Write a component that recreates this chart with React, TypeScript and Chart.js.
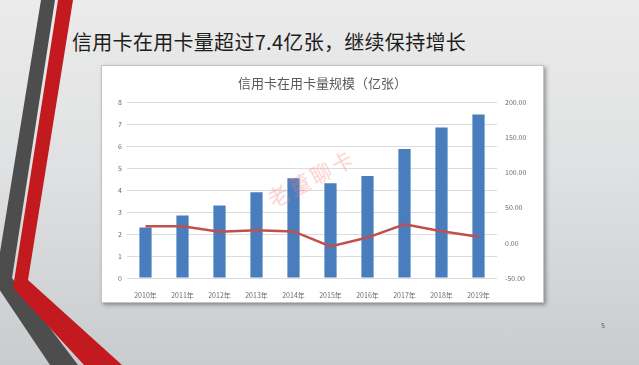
import React, { useEffect, useRef } from "react";
import { Chart, registerables } from "chart.js";

Chart.register(...registerables);

const years = ["2010年", "2011年", "2012年", "2013年", "2014年", "2015年", "2016年", "2017年", "2018年", "2019年"];
const cardsInUse = [2.30, 2.85, 3.31, 3.91, 4.55, 4.32, 4.65, 5.88, 6.86, 7.46];
const growthRate = [23.6, 23.9, 16.1, 18.1, 16.4, -5.0, 7.6, 26.5, 16.7, 8.7];

const slideTitle = "信用卡在用卡量超过7.4亿张，继续保持增长";
const chartTitle = "信用卡在用卡量规模（亿张）";
const watermark = "老董聊卡";
const pageNumber = "5";

const FONT = "'Noto Sans CJK SC', 'Noto Sans', sans-serif";

export default function App() {
  const canvasRef = useRef<HTMLCanvasElement | null>(null);

  useEffect(() => {
    document.body.style.margin = "0";
    const canvas = canvasRef.current;
    if (!canvas) return;
    const chart = new Chart(canvas, {
      type: "bar",
      data: {
        labels: years,
        datasets: [
          {
            type: "line",
            label: "增长率",
            data: growthRate,
            yAxisID: "y1",
            borderColor: "#c0504d",
            backgroundColor: "#c0504d",
            borderWidth: 2.5,
            pointRadius: 0,
            tension: 0,
            order: 0,
          },
          {
            type: "bar",
            label: "在用卡量",
            data: cardsInUse,
            yAxisID: "y",
            backgroundColor: "#4a7dbd",
            categoryPercentage: 1,
            barPercentage: 0.33,
            order: 1,
          },
        ],
      },
      options: {
        responsive: false,
        animation: false,
        layout: { padding: 0 },
        plugins: {
          legend: { display: false },
          tooltip: { enabled: false },
          title: {
            display: true,
            text: chartTitle,
            color: "#595959",
            font: { family: FONT, size: 13, weight: "normal" },
            padding: { top: 9, bottom: 12 },
          },
        },
        scales: {
          x: {
            grid: { display: false },
            border: { display: false },
            ticks: {
              color: "#6b6b6b",
              font: { family: FONT, size: 7 },
              padding: 5,
              maxRotation: 0,
              autoSkip: false,
            },
            afterFit: (s: any) => {
              s.height = 24;
            },
          },
          y: {
            position: "left",
            min: 0,
            max: 8,
            ticks: {
              stepSize: 1,
              color: "#6b6b6b",
              font: { family: FONT, size: 7 },
              padding: 5,
            },
            grid: { color: "#dcdcdc", drawTicks: false, lineWidth: 1 },
            border: { display: false },
            afterFit: (s: any) => {
              s.width = 25;
            },
          },
          y1: {
            position: "right",
            min: -50,
            max: 200,
            ticks: {
              stepSize: 50,
              color: "#6b6b6b",
              font: { family: FONT, size: 7 },
              padding: 8,
              callback: (v: any) => Number(v).toFixed(2),
            },
            grid: { display: false, drawTicks: false },
            border: { display: false },
            afterFit: (s: any) => {
              s.width = 46;
            },
          },
        },
      },
    });
    return () => chart.destroy();
  }, []);

  return (
    <div
      style={{
        position: "fixed",
        left: 0,
        top: 0,
        width: 639,
        height: 365,
        overflow: "hidden",
        background: "linear-gradient(180deg, #ebebeb 0%, #e0e1e2 45%, #c9cccd 100%)",
        fontFamily: FONT,
      }}
    >
      <svg width={639} height={365} style={{ position: "absolute", left: 0, top: 0 }}>
        <polygon points="41,0 55,0 12,278 78,365 50,365 -5,283" fill="#4d4d4d" />
        <polygon points="58,0 73,0 28,280 122,365 84,365 13,288" fill="#c21a1e" />
      </svg>
      <div
        style={{
          position: "absolute",
          left: 72,
          top: 28,
          fontSize: 20,
          lineHeight: "28px",
          color: "#1e1e1e",
          whiteSpace: "nowrap",
          letterSpacing: 0.3,
        }}
      >
        {slideTitle}
      </div>
      <div
        style={{
          position: "absolute",
          left: 101,
          top: 65,
          width: 441,
          height: 236,
          background: "#ffffff",
          border: "1px solid #c4c4c4",
          boxShadow: "2px 2px 4px rgba(0,0,0,0.35)",
        }}
      >
        <canvas ref={canvasRef} width={441} height={236} style={{ display: "block" }} />
      </div>
      <div
        style={{
          position: "absolute",
          left: 311,
          top: 177,
          transform: "translate(-50%, -50%) rotate(-28deg)",
          fontSize: 21,
          color: "rgba(240, 130, 130, 0.38)",
          letterSpacing: 3,
          whiteSpace: "nowrap",
          pointerEvents: "none",
        }}
      >
        {watermark}
      </div>
      <div
        style={{
          position: "absolute",
          left: 601,
          top: 320,
          fontSize: 7,
          color: "#555",
        }}
      >
        {pageNumber}
      </div>
    </div>
  );
}
